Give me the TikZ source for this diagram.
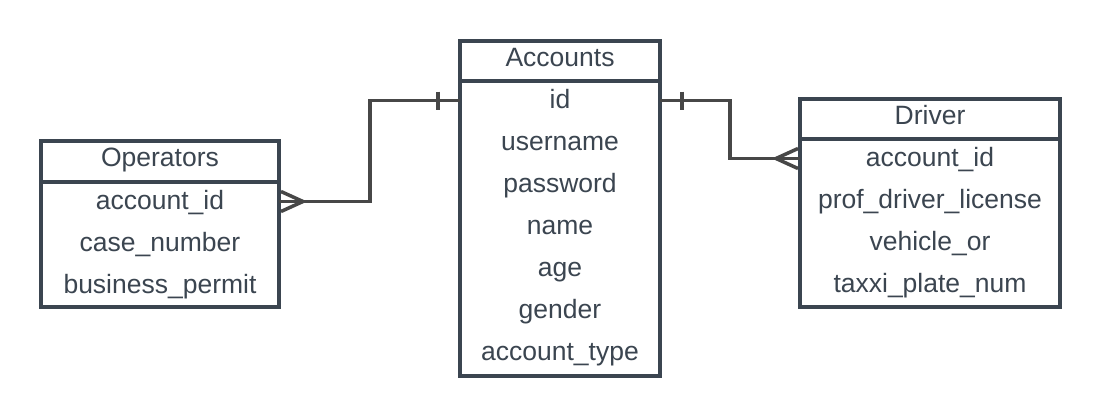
\documentclass[tikz,border=0pt]{standalone}
\usepackage{fontspec}
\setmainfont{Liberation Sans}
\usepackage{tikz}
\usetikzlibrary{positioning}

\definecolor{boxcol}{HTML}{3B4550}
\definecolor{linkcol}{HTML}{474747}

\tikzset{
	tbl/.style={draw=boxcol, line width=3.5pt, outer sep=0pt, fill=white},
	title/.style={anchor=base, text=boxcol, inner sep=0pt, font=\fontsize{26.5}{30}\selectfont},
	field/.style={title, text height=19pt, text depth=4pt},
	link/.style={draw=linkcol, line width=3.5pt}
}

\begin{document}
\begin{tikzpicture}[x=1pt, y=-1pt]
	\useasboundingbox (0,0) rectangle (1100,416);

	% tables
	\node[tbl, minimum width=238pt, minimum height=166pt] (operators) at (160,224) {};
	\node[tbl, minimum width=200pt, minimum height=335pt] (accounts) at (560,208.5) {};
	\node[tbl, minimum width=260pt, minimum height=208pt] (driver) at (930,203) {};

	\draw[tbl] ([yshift=-41pt]operators.north west) -- ([yshift=-41pt]operators.north east);
	\draw[tbl] ([yshift=-40pt]accounts.north west) -- ([yshift=-40pt]accounts.north east);
	\draw[tbl] ([yshift=-40pt]driver.north west) -- ([yshift=-40pt]driver.north east);

	% Operators
	\node[title] (optitle) at (160,166) {Operators};
	\node[field] (opaid) at (160,209) {account\_id};
	\node[field] (opcase) at (160,251) {case\_number};
	\node[field] (opperm) at (160,293) {business\_permit};

	% Accounts
	\node[title] (acctitle) at (560,66) {Accounts};
	\node[field] (accid) at (560,108) {id};
	\node[field] (accuser) at (560,150) {username};
	\node[field] (accpass) at (560,192) {password};
	\node[field] (accname) at (560,234) {name};
	\node[field] (accage) at (560,276) {age};
	\node[field] (accgender) at (560,318) {gender};
	\node[field] (acctype) at (560,360) {account\_type};

	% Driver
	\node[title] (drvtitle) at (930,124) {Driver};
	\node[field] (drvaid) at (930,166) {account\_id};
	\node[field] (drvlic) at (930,208) {prof\_driver\_license};
	\node[field] (drvveh) at (930,250) {vehicle\_or};
	\node[field] (drvplate) at (930,292) {taxxi\_plate\_num};

	% relations
	\coordinate (opbend) at (370,0);
	\coordinate (drbend) at (730,0);
	\coordinate (accL) at (accounts.west |- accid);
	\coordinate (accR) at (accounts.east |- accid);
	\coordinate (opR) at (operators.east |- opaid);
	\coordinate (drL) at (driver.west |- drvaid);

	\draw[link] (accL) -| (opbend |- opaid) -- (opR);
	\draw[link] (accR) -| (drbend |- drvaid) -- (drL);

	\draw[link] ([xshift=-22pt,yshift=9pt]accL) -- ([xshift=-22pt,yshift=-9pt]accL);
	\draw[link] ([xshift=22pt,yshift=9pt]accR) -- ([xshift=22pt,yshift=-9pt]accR);

	\draw[link] ([xshift=2pt,yshift=10pt]opR) -- ([xshift=24pt]opR) -- ([xshift=2pt,yshift=-10pt]opR);
	\draw[link] ([xshift=-2pt,yshift=10pt]drL) -- ([xshift=-24pt]drL) -- ([xshift=-2pt,yshift=-10pt]drL);
\end{tikzpicture}
\end{document}
